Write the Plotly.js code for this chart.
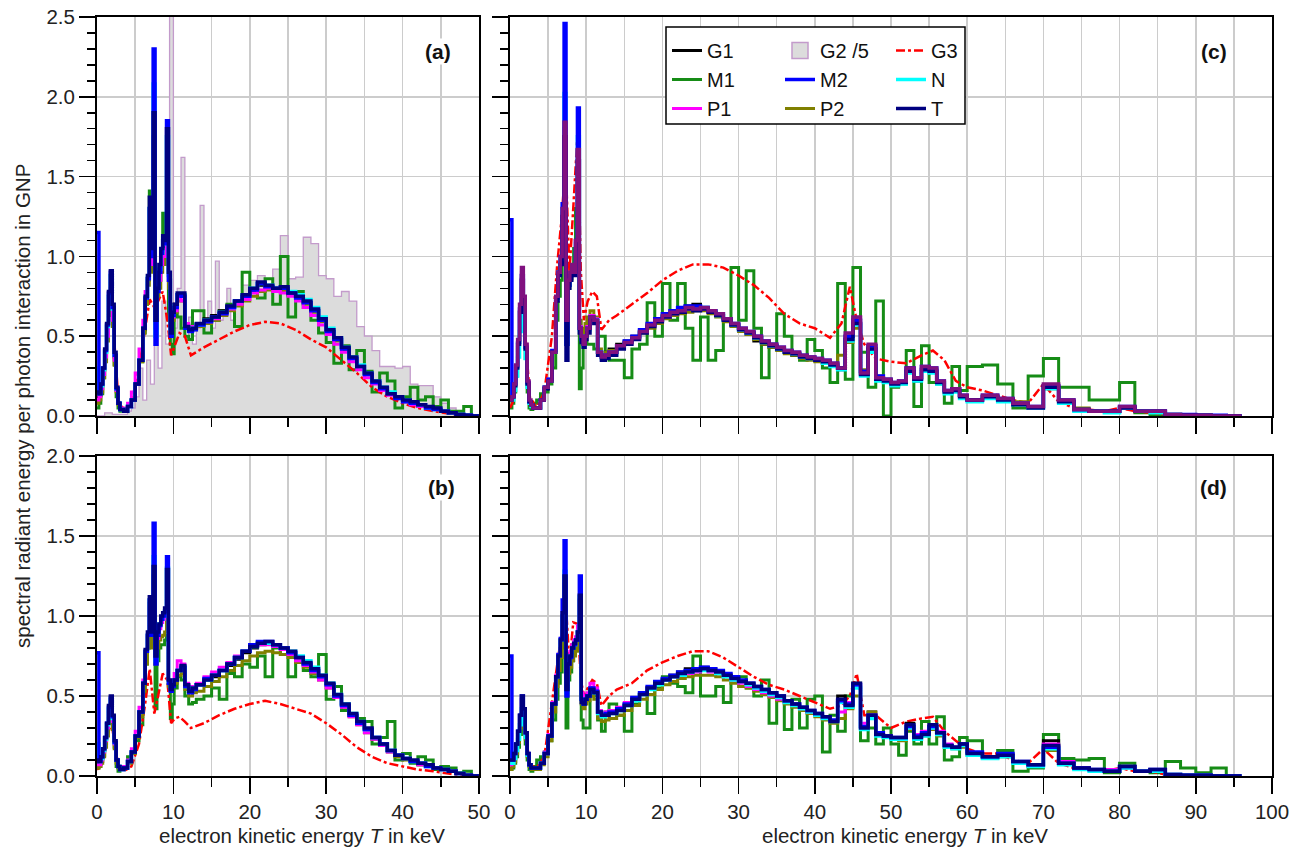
<!DOCTYPE html>
<html>
<head>
<meta charset="utf-8">
<script src="https://cdn.plot.ly/plotly-3.0.1.min.js"></script>
<style>html,body{margin:0;padding:0;background:#fff}#chart{width:1305px;height:852px}</style>
</head>
<body>
<div id="chart"></div>
<script>
// ---------- x grids (keV) ----------
const XA = [0,0.25,0.5,0.75,1,1.25,1.5,1.75,2,2.25,2.5,2.75, 3,3.5,4,4.5,5,5.5,
  6,6.3,6.6,6.85,7.1,7.35,7.6,7.85,8.1,8.35,8.6,8.85,9.1,9.35,9.6,9.85, 10.1,10.5,11,11.5,12,12.5,13,
  14,15,16,17,18,19,20,21,22,23,24,25,26,27,28,29,30,31,32,33,34,35,36,37,38,39,40,41,42,43,44,45,46,47,48,49,50];
const XC = [0,0.25,0.5,0.75,1,1.25,1.5,1.75,2,2.25,2.5,2.75, 3,3.5,4,4.5,5,5.5,
  6,6.3,6.6,6.85,7.1,7.35,7.6,7.85,8.1,8.35,8.6,8.85,9.1,9.35,9.6,9.85, 10.1,10.5,11,11.5,12,12.5,13,
  14,15,16,17,18,19,20,21,22,23,24,25,26,27,28,29,30,31,32,33,34,35,36,37,38,39,40,41,42,43,44,45,46,47,48,49,50,
  51,52,53,54,55,56,57,58,59,60, 62,64,66,68,70,72,74,76,78,80,82,84,86,88,90,92,94,96];
const G3A_X = [0,0.5,1,1.5,1.9,2.3,2.8,3.5,4.5,5.5, 6.3,6.9,7.5,8,8.6,9.2,9.7,10.2,10.8,11.5, 12.3,14,16,18,20,22,24,26,28,30, 32,34,36,38,40,42,44,46,48,49];
const G3C_X = [0,0.5,1,1.4,1.7,2.1,2.6,3.5,4.5,5.5, 6.2,6.8,7.3,7.8,8.3,8.9,9.3,9.7,10.2,10.8, 11.4,12,13,14,16,18,20,22,24,26,
  28,30,32,34,36,38,40,42,43.5,44.6, 45.5,46.5,48,50,52,54,55.5,57,58.5,60, 62,64,66,68,70,72,74,76,78,80, 82,84,86,88,90,92,96];
const G2A_X = [0,1,2,3,4,4.5,5,5.5,6,6.5, 7,7.5,8,8.5,9,9.5,10,10.5,11,11.5, 12,12.5,13,13.5,14,14.5,15,15.5,16,16.5,
  17,17.5,18,19,20,21,22,23,24,25, 26,27,28,29,30,31,32,33,34,35, 36,37,38,39,40,41,42,43,44,45, 46,47,48,49];

// ---------- panel (a) ----------
const a_G1 = [0.12,0.13,0.19,0.29,0.4,0.55,0.75,0.88,0.66,0.37,0.17,0.08, 0.04,0.03,0.06,0.1,0.2,0.35,
  0.54,0.73,0.86,1.3,1.0,1.75,0.55,0.78,0.9,1.0,1.1,1.06,1.7,0.88,0.55,0.65, 0.7,0.76,0.76,0.57,0.55,0.56,0.58,
  0.61,0.63,0.66,0.68,0.72,0.75,0.79,0.82,0.81,0.79, 0.8,0.76,0.74,0.71,0.66,0.6,0.54,0.48,0.42,0.36, 0.31,0.26,0.21,0.17,0.14,0.12,0.1,0.08,0.06,0.05, 0.04,0.03,0.02,0.01,0.005,0,0];
const a_G2div5 = [0,0.02,0.01,0.01,0.03,0.05,0.12,0.3,0.1,0.35, 0.2,0.6,0.3,0.72,0.45,2.6,0.55,0.8,1.62,0.5, 0.62,0.45,0.55,1.32,0.6,0.72,0.55,0.97,0.6,0.65,
  0.8,0.6,0.7,0.82,0.85,0.88,0.8,0.92,1.13,0.86, 0.87,1.12,1.08,0.88,0.86,0.75,0.78,0.72,0.56,0.5, 0.41,0.31,0.31,0.3,0.31,0.2,0.19,0.19,0.12,0.08, 0.05,0.03,0.01,0];
const a_G3 = [0.08,0.12,0.3,0.6,0.72,0.45,0.1,0.04,0.08,0.3, 0.55,0.73,0.68,0.72,0.78,0.6,0.38,0.45,0.52,0.5, 0.38,0.43,0.48,0.53,0.57,0.59,0.58,0.54,0.48,0.43, 0.35,0.27,0.18,0.12,0.08,0.05,0.03,0.015,0.005,0];
const a_M1 = [0.05,0.08,0.14,0.24,0.36,0.5,0.66,0.8,0.6,0.32,0.12,0.05, 0.03,0.03,0.06,0.1,0.2,0.34,
  0.52,0.7,0.85,1.41,0.95,1.35,0.7,0.8,0.85,0.95,1.27,1.1,1.2,0.6,0.45,0.39, 0.65,0.62,0.55,0.5,0.48,0.66,0.66,
  0.52,0.6,0.66,0.7,0.56,0.9,0.78,0.74,0.86,0.7, 1.0,0.62,0.78,0.68,0.6,0.52,0.46,0.33,0.44,0.29, 0.41,0.28,0.15,0.27,0.22,0.05,0.12,0.18,0.1,0.12, 0.06,0.1,0.03,0.03,0.06,0,0];
const a_M2 = [1.15,0.14,0.2,0.3,0.41,0.57,0.77,0.9,0.68,0.38,0.17,0.08, 0.04,0.03,0.06,0.1,0.2,0.35,
  0.55,0.74,0.86,1.3,1.0,2.3,0.45,0.78,0.9,1.02,1.1,1.08,1.85,0.85,0.5,0.63, 0.68,0.76,0.75,0.55,0.53,0.54,0.57,
  0.59,0.62,0.64,0.68,0.72,0.75,0.79,0.83,0.81,0.8, 0.8,0.77,0.74,0.71,0.66,0.6,0.53,0.48,0.42,0.36, 0.31,0.26,0.21,0.17,0.14,0.11,0.09,0.08,0.07,0.05, 0.04,0.03,0.02,0.01,0.005,0,0];
const a_N = [0.3,0.14,0.19,0.29,0.4,0.56,0.75,0.88,0.67,0.38,0.17,0.08, 0.04,0.03,0.06,0.1,0.2,0.35,
  0.55,0.74,0.87,1.3,1.02,2.08,0.5,0.8,0.92,1.04,1.12,1.08,1.75,0.88,0.52,0.64, 0.69,0.76,0.76,0.55,0.54,0.55,0.57,
  0.6,0.62,0.65,0.68,0.72,0.76,0.8,0.83,0.82,0.8, 0.8,0.78,0.76,0.73,0.68,0.62,0.55,0.49,0.43,0.37, 0.32,0.27,0.22,0.18,0.15,0.12,0.1,0.08,0.07,0.05, 0.04,0.03,0.02,0.01,0.005,0,0];
const a_P1 = [0.1,0.12,0.17,0.26,0.37,0.5,0.68,0.8,0.6,0.35,0.16,0.08, 0.05,0.04,0.08,0.15,0.27,0.42,
  0.6,0.78,0.87,1.2,0.95,1.6,0.6,0.78,0.85,0.95,1.0,1.0,1.5,0.85,0.58,0.62, 0.66,0.74,0.72,0.58,0.55,0.56,0.57,
  0.59,0.61,0.64,0.67,0.7,0.73,0.77,0.79,0.8,0.78, 0.77,0.75,0.72,0.68,0.63,0.57,0.51,0.45,0.4,0.34, 0.29,0.24,0.2,0.16,0.13,0.11,0.09,0.07,0.06,0.05, 0.04,0.03,0.02,0.01,0.005,0,0];
const a_P2 = [0.08,0.1,0.15,0.24,0.34,0.47,0.63,0.75,0.56,0.32,0.15,0.07, 0.04,0.03,0.06,0.1,0.2,0.34,
  0.52,0.7,0.82,1.1,0.9,1.45,0.58,0.75,0.8,0.9,0.98,0.95,1.4,0.8,0.55,0.6, 0.65,0.72,0.72,0.55,0.53,0.54,0.56,
  0.58,0.6,0.63,0.66,0.69,0.72,0.75,0.78,0.79,0.78, 0.78,0.76,0.73,0.7,0.65,0.59,0.53,0.47,0.41,0.36, 0.31,0.26,0.21,0.17,0.14,0.11,0.09,0.08,0.06,0.05, 0.04,0.03,0.02,0.01,0.005,0,0];
const a_T = [0.15,0.14,0.2,0.3,0.42,0.58,0.78,0.91,0.7,0.4,0.18,0.08, 0.04,0.03,0.06,0.1,0.2,0.35,
  0.55,0.75,0.88,1.37,1.05,1.9,0.6,0.8,0.95,1.05,1.13,1.1,1.8,0.9,0.52,0.65, 0.7,0.77,0.77,0.56,0.54,0.55,0.58,
  0.6,0.62,0.65,0.69,0.72,0.76,0.8,0.84,0.82,0.8, 0.81,0.77,0.75,0.72,0.67,0.61,0.54,0.49,0.43,0.37, 0.31,0.27,0.22,0.18,0.14,0.12,0.1,0.09,0.07,0.06, 0.05,0.03,0.02,0.01,0.005,0,0];

// ---------- panel (b) ----------
const b_G1 = [0.08,0.08,0.11,0.16,0.23,0.32,0.42,0.48,0.36,0.21,0.1,0.06, 0.04,0.05,0.09,0.15,0.25,0.4,
  0.57,0.77,0.87,1.08,0.88,1.25,0.74,0.88,0.94,0.98,1.0,1.02,1.25,0.58,0.54,0.57, 0.6,0.66,0.68,0.56,0.53,0.55,0.57,
  0.6,0.62,0.66,0.69,0.73,0.77,0.8,0.82,0.83,0.82, 0.8,0.77,0.74,0.7,0.66,0.62,0.57,0.5,0.44,0.38, 0.33,0.29,0.24,0.2,0.16,0.13,0.11,0.09,0.07,0.06, 0.05,0.04,0.03,0.015,0.005,0,0];
const b_G3 = [0.04,0.06,0.15,0.28,0.33,0.2,0.06,0.03,0.06,0.2, 0.45,0.67,0.39,0.5,0.64,0.6,0.33,0.36,0.37,0.34, 0.3,0.33,0.38,0.42,0.45,0.47,0.45,0.42,0.39,0.33, 0.26,0.18,0.12,0.08,0.06,0.04,0.03,0.015,0.005,0];
const b_M1 = [0.05,0.06,0.09,0.13,0.2,0.28,0.36,0.42,0.32,0.18,0.06,0.03, 0.04,0.06,0.12,0.15,0.22,0.32,
  0.5,0.7,0.8,0.9,0.85,1.0,0.42,0.72,0.8,0.82,0.82,0.85,0.88,0.58,0.36,0.45, 0.55,0.62,0.6,0.5,0.45,0.46,0.48,
  0.5,0.55,0.48,0.64,0.62,0.7,0.68,0.75,0.62,0.8, 0.76,0.62,0.72,0.66,0.62,0.76,0.48,0.56,0.41,0.38, 0.36,0.34,0.2,0.24,0.34,0.1,0.14,0.08,0.12,0.1, 0.04,0.06,0.05,0.02,0.03,0,0];
const b_M2 = [0.77,0.09,0.12,0.17,0.24,0.33,0.43,0.49,0.37,0.21,0.1,0.06, 0.04,0.05,0.09,0.15,0.25,0.4,
  0.58,0.78,0.88,1.1,0.88,1.58,0.7,0.88,0.94,0.98,1.0,1.03,1.37,0.58,0.53,0.56, 0.6,0.66,0.68,0.56,0.52,0.54,0.57,
  0.61,0.63,0.66,0.7,0.74,0.78,0.82,0.84,0.84,0.82, 0.8,0.77,0.74,0.7,0.66,0.62,0.57,0.5,0.44,0.38, 0.33,0.29,0.24,0.2,0.16,0.13,0.11,0.09,0.08,0.06, 0.05,0.04,0.03,0.015,0.005,0,0];
const b_N = [0.2,0.09,0.11,0.16,0.23,0.32,0.42,0.48,0.36,0.21,0.1,0.06, 0.04,0.05,0.09,0.15,0.25,0.4,
  0.58,0.78,0.88,1.1,0.9,1.37,0.72,0.9,0.95,0.98,1.0,1.03,1.3,0.58,0.54,0.57, 0.6,0.66,0.68,0.56,0.53,0.55,0.57,
  0.6,0.63,0.66,0.7,0.74,0.78,0.81,0.83,0.83,0.82, 0.8,0.78,0.75,0.72,0.68,0.63,0.58,0.51,0.45,0.39, 0.34,0.29,0.24,0.2,0.16,0.13,0.11,0.09,0.08,0.06, 0.05,0.04,0.03,0.015,0.005,0,0];
const b_P1 = [0.07,0.07,0.1,0.15,0.22,0.3,0.4,0.45,0.34,0.2,0.1,0.06, 0.05,0.06,0.1,0.17,0.28,0.43,
  0.6,0.78,0.88,1.05,0.88,1.2,0.75,0.86,0.92,0.96,0.98,1.0,1.2,0.6,0.58,0.6, 0.64,0.72,0.7,0.58,0.55,0.56,0.58,
  0.62,0.65,0.68,0.71,0.75,0.78,0.81,0.82,0.82,0.81, 0.79,0.76,0.72,0.69,0.65,0.6,0.55,0.49,0.43,0.37, 0.32,0.27,0.23,0.19,0.15,0.13,0.11,0.09,0.07,0.06, 0.05,0.04,0.03,0.015,0.005,0,0];
const b_P2 = [0.05,0.06,0.08,0.12,0.18,0.25,0.33,0.38,0.29,0.17,0.08,0.05, 0.04,0.05,0.08,0.14,0.24,0.37,
  0.53,0.7,0.8,0.9,0.8,1.0,0.7,0.8,0.85,0.87,0.88,0.9,1.0,0.56,0.54,0.56, 0.58,0.63,0.64,0.54,0.5,0.52,0.53,
  0.56,0.59,0.62,0.66,0.69,0.72,0.75,0.77,0.78,0.77, 0.76,0.74,0.71,0.68,0.64,0.6,0.55,0.49,0.43,0.37, 0.32,0.27,0.23,0.19,0.15,0.12,0.1,0.09,0.07,0.06, 0.05,0.04,0.03,0.015,0.005,0,0];
const b_T = [0.1,0.09,0.12,0.17,0.24,0.33,0.44,0.5,0.38,0.22,0.1,0.06, 0.04,0.05,0.09,0.15,0.25,0.4,
  0.58,0.79,0.9,1.12,0.9,1.31,0.75,0.9,0.95,1.0,1.02,1.05,1.29,0.6,0.54,0.57, 0.6,0.66,0.69,0.57,0.53,0.55,0.57,
  0.6,0.63,0.66,0.7,0.74,0.78,0.81,0.83,0.84,0.82, 0.8,0.78,0.74,0.71,0.67,0.63,0.58,0.51,0.45,0.39, 0.34,0.3,0.24,0.2,0.16,0.13,0.11,0.1,0.08,0.07, 0.05,0.04,0.03,0.015,0.005,0,0];

// ---------- panel (c) ----------
const c_G1 = [0.12,0.12,0.19,0.3,0.45,0.66,0.86,0.7,0.42,0.2,0.09,0.07, 0.05,0.05,0.1,0.17,0.22,0.4,
  0.72,0.88,0.96,1.27,1.8,0.5,0.82,0.86,0.9,0.88,1.06,1.62,0.55,0.5,0.46,0.5, 0.55,0.62,0.6,0.4,0.38,0.4,0.42,
  0.45,0.47,0.5,0.54,0.57,0.61,0.63,0.65,0.68,0.69, 0.7,0.68,0.66,0.64,0.61,0.57,0.54,0.51,0.47,0.45, 0.43,0.42,0.4,0.38,0.37,0.36,0.35,0.33,0.31,0.29,
  0.5,0.6,0.27,0.44,0.24,0.22,0.2,0.21,0.3,0.22, 0.3,0.29,0.21,0.15,0.17,0.12,0.1,
  0.12,0.1,0.08,0.06,0.19,0.09,0.04,0.03,0.03,0.06, 0.03,0.03,0.01,0.005,0.005,0,0,0];
const c_G2 = [0.1,0.12,0.2,0.32,0.48,0.7,0.93,0.75,0.45,0.22,0.1,0.07, 0.05,0.05,0.1,0.18,0.22,0.4,
  0.75,0.9,1.0,1.3,1.84,0.6,0.85,0.9,0.95,0.9,1.1,1.67,0.55,0.5,0.45,0.5, 0.55,0.62,0.6,0.4,0.37,0.38,0.4,
  0.44,0.46,0.49,0.53,0.57,0.6,0.63,0.65,0.66,0.68, 0.67,0.68,0.66,0.64,0.61,0.58,0.55,0.53,0.5,0.47, 0.45,0.43,0.41,0.4,0.38,0.37,0.36,0.35,0.33,0.3,
  0.52,0.62,0.27,0.45,0.24,0.23,0.21,0.22,0.3,0.24, 0.31,0.3,0.22,0.16,0.17,0.13,0.1,
  0.13,0.11,0.08,0.06,0.2,0.1,0.04,0.03,0.03,0.06, 0.03,0.03,0.01,0.005,0.005,0,0,0];
const c_G3 = [0.05,0.1,0.35,0.65,0.8,0.45,0.12,0.05,0.15,0.5, 0.95,1.25,1.6,0.9,1.3,1.8,0.9,0.6,0.72,0.78, 0.75,0.54,0.6,0.63,0.7,0.77,0.85,0.91,0.95,0.95,
  0.93,0.88,0.82,0.74,0.64,0.58,0.55,0.49,0.58,0.81, 0.6,0.45,0.36,0.34,0.33,0.38,0.41,0.35,0.22,0.18, 0.16,0.13,0.1,0.08,0.2,0.09,0.05,0.04,0.03,0.05, 0.03,0.02,0.01,0.005,0,0,0];
const c_M1 = [0.05,0.08,0.15,0.25,0.4,0.6,0.8,0.62,0.36,0.15,0.05,0.04, 0.08,0.1,0.14,0.15,0.2,0.3,
  0.6,0.75,0.85,1.0,1.2,0.6,0.8,0.85,0.9,1.05,1.3,1.0,0.17,0.3,0.45,0.5, 0.45,0.45,0.42,0.5,0.5,0.36,0.35,
  0.35,0.24,0.42,0.45,0.71,0.5,0.83,0.6,0.83,0.55, 0.35,0.62,0.35,0.41,0.6,0.93,0.6,0.91,0.55,0.24, 0.45,0.64,0.5,0.38,0.35,0.48,0.41,0.3,0.21,0.83,
  0.23,0.93,0.4,0.18,0.72,0,0.18,0.2,0.41,0.06, 0.44,0.21,0.2,0.08,0.31,0.16,0.31,
  0.32,0.2,0.05,0.25,0.36,0.18,0.18,0.1,0.1,0.21, 0.02,0.01,0.005,0,0,0,0,0];
const c_M2 = [1.23,0.12,0.2,0.31,0.46,0.67,0.88,0.72,0.43,0.21,0.09,0.07, 0.05,0.05,0.1,0.18,0.23,0.41,
  0.74,0.9,1.0,1.33,2.46,0.45,0.82,0.88,0.92,0.9,1.1,1.93,0.55,0.48,0.45,0.5, 0.55,0.62,0.6,0.4,0.37,0.38,0.4,
  0.44,0.47,0.5,0.54,0.58,0.61,0.64,0.66,0.68,0.69, 0.69,0.68,0.66,0.64,0.61,0.58,0.55,0.53,0.5,0.47, 0.45,0.43,0.41,0.4,0.38,0.37,0.36,0.35,0.33,0.3,
  0.5,0.6,0.28,0.44,0.25,0.23,0.21,0.22,0.3,0.24, 0.31,0.3,0.22,0.16,0.17,0.13,0.1,
  0.13,0.11,0.08,0.06,0.19,0.1,0.04,0.03,0.03,0.06, 0.03,0.03,0.01,0.01,0.005,0.005,0,0];
const c_N = [0.2,0.1,0.16,0.25,0.37,0.53,0.7,0.58,0.36,0.18,0.08,0.06, 0.05,0.05,0.1,0.18,0.22,0.4,
  0.73,0.9,0.98,1.3,2.02,0.45,0.82,0.88,0.92,0.9,1.08,1.75,0.54,0.48,0.44,0.5, 0.54,0.61,0.6,0.4,0.36,0.37,0.39,
  0.43,0.46,0.49,0.53,0.57,0.6,0.63,0.65,0.67,0.68, 0.68,0.68,0.66,0.63,0.6,0.57,0.54,0.52,0.49,0.46, 0.44,0.42,0.4,0.39,0.37,0.36,0.35,0.33,0.31,0.29,
  0.47,0.57,0.25,0.4,0.22,0.21,0.19,0.2,0.27,0.22, 0.28,0.27,0.2,0.14,0.15,0.11,0.09,
  0.11,0.09,0.07,0.05,0.17,0.08,0.03,0.03,0.02,0.05, 0.03,0.02,0.01,0.005,0.005,0,0,0];
const c_P1 = [0.1,0.12,0.2,0.31,0.47,0.69,0.9,0.73,0.44,0.21,0.09,0.07, 0.05,0.05,0.1,0.18,0.23,0.41,
  0.74,0.9,0.98,1.3,1.8,0.55,0.85,0.9,0.95,0.9,1.1,1.65,0.56,0.5,0.46,0.5, 0.56,0.63,0.61,0.4,0.37,0.38,0.4,
  0.43,0.46,0.49,0.53,0.56,0.6,0.62,0.64,0.66,0.67, 0.67,0.67,0.65,0.63,0.6,0.57,0.54,0.52,0.49,0.46, 0.44,0.42,0.4,0.39,0.37,0.36,0.35,0.34,0.32,0.3,
  0.5,0.6,0.27,0.44,0.24,0.22,0.2,0.21,0.29,0.23, 0.3,0.29,0.21,0.15,0.16,0.12,0.1,
  0.12,0.1,0.08,0.06,0.19,0.09,0.04,0.03,0.03,0.05, 0.03,0.03,0.01,0.005,0.005,0,0,0];
const c_P2 = [0.1,0.12,0.2,0.3,0.46,0.67,0.88,0.72,0.43,0.21,0.09,0.07, 0.05,0.05,0.1,0.18,0.23,0.41,
  0.72,0.9,0.98,1.3,1.78,0.55,0.85,0.9,0.95,0.92,1.1,1.6,0.6,0.55,0.5,0.58, 0.62,0.66,0.62,0.42,0.38,0.4,0.41,
  0.44,0.46,0.49,0.52,0.55,0.58,0.61,0.63,0.64,0.65, 0.66,0.66,0.64,0.62,0.59,0.56,0.53,0.51,0.48,0.45, 0.43,0.41,0.39,0.38,0.36,0.35,0.34,0.33,0.31,0.38,
  0.46,0.55,0.29,0.42,0.25,0.23,0.2,0.21,0.28,0.23, 0.29,0.28,0.21,0.15,0.16,0.12,0.1,
  0.12,0.1,0.09,0.06,0.17,0.1,0.05,0.03,0.03,0.05, 0.03,0.03,0.01,0.005,0.005,0,0,0];
const c_T = [0.1,0.12,0.19,0.3,0.45,0.65,0.85,0.7,0.42,0.2,0.09,0.07, 0.05,0.05,0.1,0.17,0.22,0.4,
  0.72,0.88,0.95,1.25,1.75,0.35,0.8,0.85,0.9,0.88,1.05,1.6,0.52,0.46,0.43,0.48, 0.52,0.6,0.58,0.38,0.35,0.36,0.38,
  0.42,0.45,0.48,0.52,0.56,0.59,0.62,0.64,0.65,0.67, 0.66,0.67,0.65,0.63,0.6,0.57,0.54,0.52,0.49,0.46, 0.44,0.42,0.4,0.39,0.37,0.36,0.35,0.34,0.32,0.3,
  0.48,0.58,0.26,0.42,0.23,0.22,0.2,0.21,0.28,0.23, 0.29,0.28,0.21,0.15,0.16,0.12,0.1,
  0.12,0.1,0.07,0.05,0.18,0.09,0.04,0.03,0.03,0.05, 0.03,0.03,0.01,0.005,0.005,0,0,0];

// ---------- panel (d) ----------
const d_G1 = [0.08,0.09,0.13,0.19,0.27,0.36,0.48,0.4,0.26,0.14,0.07,0.05, 0.05,0.05,0.08,0.14,0.25,0.45,
  0.61,0.75,0.85,1.0,1.2,0.56,0.72,0.76,0.8,0.83,0.85,0.9,1.1,0.5,0.46,0.48, 0.5,0.55,0.53,0.4,0.38,0.39,0.4,
  0.42,0.45,0.48,0.52,0.55,0.58,0.61,0.63,0.65,0.67, 0.67,0.68,0.67,0.65,0.63,0.61,0.59,0.57,0.55,0.53, 0.51,0.49,0.47,0.44,0.42,0.4,0.38,0.36,0.34,0.5,
  0.45,0.56,0.3,0.4,0.26,0.25,0.24,0.23,0.33,0.24, 0.26,0.31,0.27,0.19,0.18,0.2,0.14,
  0.12,0.13,0.09,0.07,0.22,0.08,0.05,0.04,0.03,0.06, 0.03,0.04,0.01,0.005,0.005,0,0,0];
const d_G3 = [0.04,0.07,0.2,0.38,0.45,0.25,0.07,0.05,0.12,0.45, 0.7,0.9,1.1,0.7,0.96,0.95,0.6,0.5,0.55,0.6, 0.58,0.44,0.5,0.54,0.58,0.66,0.71,0.75,0.78,0.78,
  0.74,0.68,0.62,0.57,0.54,0.5,0.46,0.42,0.44,0.5, 0.64,0.38,0.38,0.3,0.34,0.36,0.37,0.28,0.22,0.17, 0.14,0.14,0.1,0.08,0.17,0.08,0.05,0.04,0.03,0.05, 0.03,0.03,0.01,0.005,0,0,0];
const d_M1 = [0.04,0.05,0.08,0.12,0.18,0.26,0.38,0.32,0.2,0.1,0.04,0.03, 0.06,0.1,0.12,0.15,0.22,0.35,
  0.48,0.58,0.65,0.8,0.9,0.3,0.6,0.65,0.72,0.78,0.8,0.85,0.8,0.35,0.3,0.3, 0.3,0.55,0.5,0.35,0.28,0.4,0.45,
  0.38,0.28,0.45,0.52,0.39,0.55,0.62,0.58,0.56,0.52, 0.75,0.5,0.5,0.56,0.46,0.6,0.62,0.55,0.5,0.6, 0.33,0.5,0.29,0.48,0.3,0.48,0.5,0.15,0.38,0.28,
  0.5,0.58,0.22,0.3,0.2,0.3,0.2,0.13,0.28,0.2, 0.34,0.2,0.37,0.1,0.12,0.24,0.22,
  0.12,0.16,0.03,0.05,0.26,0.11,0.1,0.11,0.02,0.08, 0.03,0.02,0.09,0.05,0.02,0.05,0,0];
const d_M2 = [0.75,0.1,0.14,0.2,0.28,0.38,0.5,0.42,0.27,0.14,0.07,0.05, 0.05,0.05,0.08,0.14,0.25,0.45,
  0.62,0.76,0.86,1.1,1.47,0.5,0.7,0.74,0.8,0.82,0.85,0.9,1.25,0.48,0.45,0.48, 0.5,0.55,0.53,0.4,0.38,0.39,0.4,
  0.42,0.45,0.49,0.52,0.56,0.59,0.61,0.63,0.65,0.66, 0.67,0.68,0.67,0.66,0.64,0.62,0.6,0.58,0.56,0.54, 0.52,0.5,0.47,0.45,0.43,0.41,0.39,0.37,0.35,0.47,
  0.45,0.57,0.31,0.38,0.27,0.25,0.24,0.24,0.31,0.25, 0.27,0.31,0.27,0.19,0.18,0.2,0.15,
  0.12,0.14,0.09,0.07,0.18,0.08,0.05,0.04,0.03,0.06, 0.03,0.04,0.01,0.005,0.005,0,0,0];
const d_N = [0.15,0.08,0.11,0.16,0.23,0.32,0.42,0.36,0.24,0.13,0.07,0.05, 0.05,0.05,0.08,0.14,0.25,0.45,
  0.62,0.75,0.85,1.0,1.28,0.52,0.72,0.75,0.8,0.82,0.85,0.9,1.12,0.48,0.45,0.48, 0.5,0.54,0.52,0.39,0.37,0.38,0.39,
  0.41,0.44,0.47,0.51,0.54,0.57,0.6,0.62,0.63,0.65, 0.66,0.66,0.66,0.64,0.62,0.6,0.59,0.57,0.55,0.53, 0.51,0.49,0.46,0.44,0.42,0.4,0.38,0.36,0.34,0.46,
  0.43,0.55,0.29,0.36,0.25,0.24,0.23,0.23,0.3,0.23, 0.25,0.3,0.26,0.18,0.17,0.19,0.13,
  0.11,0.12,0.08,0.06,0.17,0.07,0.04,0.03,0.03,0.05, 0.03,0.03,0.01,0.005,0.005,0,0,0];
const d_P1 = [0.07,0.08,0.12,0.18,0.26,0.36,0.48,0.4,0.26,0.14,0.07,0.05, 0.05,0.05,0.08,0.15,0.26,0.46,
  0.63,0.76,0.86,1.0,1.2,0.58,0.74,0.78,0.82,0.85,0.87,0.94,1.1,0.52,0.47,0.5, 0.52,0.58,0.55,0.41,0.39,0.4,0.41,
  0.43,0.46,0.49,0.52,0.55,0.58,0.6,0.62,0.63,0.64, 0.65,0.66,0.65,0.64,0.62,0.6,0.58,0.56,0.54,0.52, 0.5,0.48,0.46,0.44,0.42,0.4,0.38,0.36,0.34,0.4,
  0.46,0.56,0.33,0.38,0.26,0.25,0.24,0.23,0.3,0.26, 0.28,0.3,0.28,0.2,0.18,0.19,0.14,
  0.12,0.13,0.09,0.07,0.2,0.09,0.05,0.04,0.04,0.05, 0.03,0.03,0.01,0.005,0.005,0,0,0];
const d_P2 = [0.04,0.06,0.09,0.14,0.21,0.3,0.42,0.35,0.23,0.12,0.06,0.04, 0.04,0.04,0.07,0.12,0.22,0.4,
  0.56,0.66,0.74,0.85,0.95,0.52,0.64,0.68,0.72,0.75,0.78,0.82,0.9,0.45,0.42,0.45, 0.47,0.5,0.48,0.36,0.34,0.35,0.36,
  0.38,0.41,0.44,0.48,0.51,0.54,0.57,0.59,0.61,0.62, 0.63,0.63,0.63,0.62,0.6,0.58,0.56,0.55,0.53,0.51, 0.49,0.47,0.45,0.43,0.41,0.39,0.37,0.35,0.33,0.36,
  0.42,0.5,0.3,0.4,0.27,0.24,0.23,0.22,0.29,0.23, 0.25,0.29,0.25,0.18,0.17,0.18,0.13,
  0.11,0.12,0.08,0.06,0.16,0.08,0.05,0.04,0.03,0.05, 0.03,0.03,0.01,0.005,0.005,0,0,0];
const d_T = [0.1,0.1,0.14,0.2,0.28,0.38,0.5,0.42,0.27,0.14,0.07,0.05, 0.05,0.05,0.08,0.14,0.25,0.45,
  0.62,0.75,0.85,1.02,1.25,0.54,0.7,0.75,0.8,0.83,0.85,0.9,1.13,0.46,0.45,0.48, 0.5,0.54,0.52,0.4,0.38,0.38,0.39,
  0.41,0.44,0.48,0.51,0.55,0.58,0.6,0.62,0.64,0.65, 0.66,0.67,0.66,0.65,0.63,0.61,0.59,0.58,0.56,0.54, 0.52,0.5,0.47,0.45,0.43,0.41,0.39,0.37,0.34,0.48,
  0.44,0.58,0.3,0.38,0.26,0.25,0.24,0.24,0.32,0.24, 0.26,0.32,0.27,0.19,0.18,0.2,0.14,
  0.12,0.13,0.09,0.07,0.19,0.08,0.05,0.04,0.03,0.06, 0.03,0.04,0.01,0.005,0.005,0,0,0];

// ---------- labels ----------
const seriesNames = {G1:'G1', G2:'G2 /5', G3:'G3', M1:'M1', M2:'M2', N:'N', P1:'P1', P2:'P2', T:'T'};
const panelLabels = ['(a)', '(b)', '(c)', '(d)'];
const xTitle = 'electron kinetic energy <i>T</i> in keV';
const yTitle = 'spectral radiant energy per photon interaction in GNP';

// ---------- styles ----------
const FONT = 'Liberation Sans, Arial, Helvetica, sans-serif';
const FS = 20.5;
const STY = {
  G1: {color:'#000000', width:3, legend:'legend', rank:1},
  M1: {color:'#168c16', width:3, legend:'legend', rank:2},
  P1: {color:'#ff00ff', width:3, legend:'legend', rank:3},
  M2: {color:'#0000ff', width:3.5, legend:'legend2', rank:2},
  P2: {color:'#808000', width:3, legend:'legend2', rank:3},
  G3: {color:'#ff0000', width:2.5, dash:'dashdot', legend:'legend3', rank:1},
  N:  {color:'#00ffff', width:3.5, legend:'legend3', rank:2},
  T:  {color:'#000080', width:3.5, legend:'legend3', rank:3}
};

const traces = [];
function line(key, x, y, xa, ya, showleg) {
  const s = STY[key];
  traces.push({type:'scatter', mode:'lines', name:seriesNames[key], x:x, y:y, xaxis:xa, yaxis:ya,
    line:{color:s.color, width:s.width, shape: key === 'G3' ? 'linear' : 'hv', dash:s.dash || 'solid'},
    legend:s.legend, legendrank:s.rank, showlegend:!!showleg, hoverinfo:'skip'});
}

// panel (a)
traces.push({type:'scatter', mode:'lines', name:seriesNames.G2, x:G2A_X, y:a_G2div5, xaxis:'x', yaxis:'y',
  line:{color:'#c39bcb', width:1.3, shape:'hv'}, fill:'tozeroy', fillcolor:'#dcdcdc', showlegend:false, hoverinfo:'skip'});
line('M1', XA, a_M1, 'x', 'y');
line('G3', G3A_X, a_G3, 'x', 'y');
line('G1', XA, a_G1, 'x', 'y');
line('P2', XA, a_P2, 'x', 'y');
line('P1', XA, a_P1, 'x', 'y');
line('N', XA, a_N, 'x', 'y');
line('M2', XA, a_M2, 'x', 'y');
line('T', XA, a_T, 'x', 'y');
// panel (b)
line('M1', XA, b_M1, 'x2', 'y2');
line('G3', G3A_X, b_G3, 'x2', 'y2');
line('G1', XA, b_G1, 'x2', 'y2');
line('P2', XA, b_P2, 'x2', 'y2');
line('P1', XA, b_P1, 'x2', 'y2');
line('N', XA, b_N, 'x2', 'y2');
line('M2', XA, b_M2, 'x2', 'y2');
line('T', XA, b_T, 'x2', 'y2');
// panel (c) - carries the legend entries
line('M1', XC, c_M1, 'x3', 'y3', true);
line('G3', G3C_X, c_G3, 'x3', 'y3', true);
line('G1', XC, c_G1, 'x3', 'y3', true);
line('P2', XC, c_P2, 'x3', 'y3', true);
line('P1', XC, c_P1, 'x3', 'y3', true);
line('N', XC, c_N, 'x3', 'y3', true);
line('M2', XC, c_M2, 'x3', 'y3', true);
line('T', XC, c_T, 'x3', 'y3', true);
traces.push({type:'scatter', mode:'lines', name:'G2', x:XC, y:c_G2, xaxis:'x3', yaxis:'y3',
  line:{color:'#80117f', width:3.5, shape:'hv'}, showlegend:false, hoverinfo:'skip'});
// legend key for the G2 /5 histogram (filled square)
traces.push({type:'scatter', mode:'markers', name:seriesNames.G2, x:[null], y:[null], xaxis:'x3', yaxis:'y3',
  marker:{symbol:'square', size:16, color:'#dcdcdc', line:{color:'#c39bcb', width:1.5}},
  legend:'legend2', legendrank:1, showlegend:true, hoverinfo:'skip'});
// panel (d)
line('M1', XC, d_M1, 'x4', 'y4');
line('G3', G3C_X, d_G3, 'x4', 'y4');
line('G1', XC, d_G1, 'x4', 'y4');
line('P2', XC, d_P2, 'x4', 'y4');
line('P1', XC, d_P1, 'x4', 'y4');
line('N', XC, d_N, 'x4', 'y4');
line('M2', XC, d_M2, 'x4', 'y4');
line('T', XC, d_T, 'x4', 'y4');

// sanity check of array lengths
const bad = traces.filter(t => t.x.length !== t.y.length).map(t => t.name + '@' + t.xaxis + ' ' + t.x.length + '/' + t.y.length);
if (bad.length) throw new Error('length mismatch: ' + bad.join(', '));

const GRID = '#cccccc';
function xax(domain, range, labels, anchor) {
  return {domain:domain, range:range, anchor:anchor, tick0:0, dtick:10, ticks:'outside', ticklen:16, tickwidth:1.5, tickcolor:'#000',
    showticklabels:labels, tickfont:{family:FONT, size:FS, color:'#222'},
    showline:true, linecolor:'#000', linewidth:2, mirror:true, zeroline:false,
    showgrid:true, gridcolor:GRID, gridwidth:1.5, fixedrange:true,
    minor:{tick0:0, dtick:5, ticks:'outside', ticklen:9, tickwidth:1.5, tickcolor:'#000', showgrid:true, gridcolor:GRID, gridwidth:1.5}};
}
function yax(domain, range, labels, anchor) {
  return {domain:domain, range:range, anchor:anchor, tick0:0, dtick:0.5, tickformat:'.1f', ticks:'outside', ticklen:16, tickwidth:1.5, tickcolor:'#000',
    showticklabels:labels, tickfont:{family:FONT, size:FS, color:'#222'},
    showline:true, linecolor:'#000', linewidth:2, mirror:true, zeroline:false,
    showgrid:true, gridcolor:GRID, gridwidth:1.5, fixedrange:true,
    minor:{tick0:0, dtick:0.1, ticks:'outside', ticklen:8, tickwidth:1.5, tickcolor:'#000', showgrid:false}};
}
const LX = [0.07433, 0.36705], RX = [0.39080, 0.97471];
const TY = [0.51174, 0.98005], BY = [0.08920, 0.46479];

function legendAt(xpx) {
  return {x:xpx/1305, y:1 - 31/852, xanchor:'left', yanchor:'top', bgcolor:'rgba(0,0,0,0)', borderwidth:0,
    font:{family:FONT, size:20, color:'#111'}, itemwidth:30, traceorder:'normal', tracegroupgap:0};
}
function panelLabel(text, xpx, ypx) {
  return {text:'<b>' + text + '</b>', xref:'paper', yref:'paper', x:xpx/1305, y:1 - ypx/852, showarrow:false,
    font:{family:FONT, size:21, color:'#111'}, bgcolor:'#ffffff', xanchor:'center', yanchor:'middle'};
}

const layout = {
  width:1305, height:852, margin:{l:0, r:0, t:0, b:0}, paper_bgcolor:'#fff', plot_bgcolor:'#fff',
  font:{family:FONT, size:FS, color:'#222'},
  xaxis: xax(LX, [0, 50], false, 'y'),  yaxis: yax(TY, [0, 2.5], true, 'x'),
  xaxis2: xax(LX, [0, 50], true, 'y2'), yaxis2: yax(BY, [0, 2.0], true, 'x2'),
  xaxis3: xax(RX, [0, 100], false, 'y3'), yaxis3: yax(TY, [0, 2.5], false, 'x3'),
  xaxis4: xax(RX, [0, 100], true, 'y4'), yaxis4: yax(BY, [0, 2.0], false, 'x4'),
  legend: legendAt(667), legend2: legendAt(780), legend3: legendAt(891),
  shapes:[{type:'rect', xref:'paper', yref:'paper', x0:666/1305, x1:965/1305, y0:1 - 124/852, y1:1 - 27/852,
    line:{color:'#000', width:1.5}, fillcolor:'#ffffff', layer:'above'}],
  annotations:[
    panelLabel(panelLabels[0], 438, 51), panelLabel(panelLabels[1], 441, 487),
    panelLabel(panelLabels[2], 1214, 51), panelLabel(panelLabels[3], 1213, 487),
    {text:xTitle, xref:'paper', yref:'paper', x:302/1305, y:1 - 835/852, showarrow:false, font:{family:FONT, size:FS, color:'#222'}, xanchor:'center', yanchor:'middle'},
    {text:xTitle, xref:'paper', yref:'paper', x:905/1305, y:1 - 835/852, showarrow:false, font:{family:FONT, size:FS, color:'#222'}, xanchor:'center', yanchor:'middle'},
    {text:yTitle, xref:'paper', yref:'paper', x:22/1305, y:1 - 406/852, showarrow:false, textangle:-90, font:{family:FONT, size:FS, color:'#222'}, xanchor:'center', yanchor:'middle'}
  ]
};

Plotly.newPlot('chart', traces, layout, {staticPlot:true, displayModeBar:false});
</script>
</body>
</html>
